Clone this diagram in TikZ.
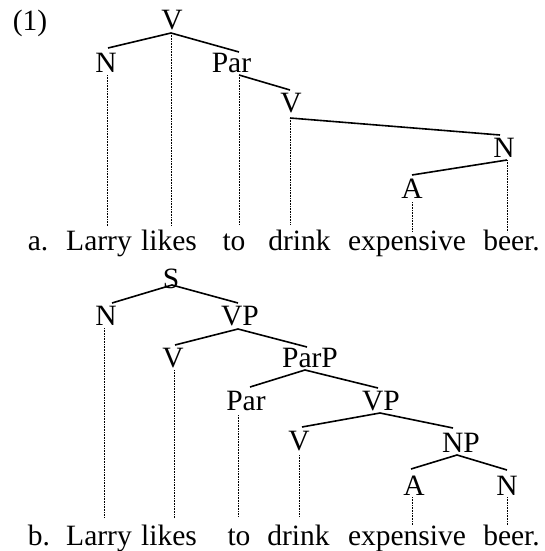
\documentclass[tikz,border=0pt]{standalone}
\usepackage{fontspec}
\setmainfont{Liberation Serif}
\begin{document}
\begin{tikzpicture}[x=1pt,y=-1pt,
  lab/.style={anchor=base,inner sep=0pt,font=\fontsize{29.5}{34}\selectfont},
  wd/.style={anchor=base,inner sep=0pt,font=\fontsize{29.5}{34}\selectfont},
  br/.style={line width=1.6pt},
  tr/.style={line width=0.9pt,dash pattern=on 0.9pt off 0.7pt}]
\useasboundingbox (0,0) rectangle (544,551);
% ---------- (1) a ----------
\node[lab] (num) at (30,31) {(1)};
\node[lab] (aV) at (172,29.5) {V};
\node[lab] (aN) at (106,72) {N};
\node[lab] (aPar) at (231.5,72) {Par};
\node[lab] (aV2) at (291,112) {V};
\node[lab] (aN3) at (504,157) {N};
\node[lab] (aA) at (412,198) {A};
\node[wd] (aw0) at (38,250) {a.};
\node[wd] (aw1) at (99,250) {Larry};
\node[wd] (aw2) at (169,250) {likes};
\node[wd] (aw3) at (234,250) {to};
\node[wd] (aw4) at (299.5,250) {drink};
\node[wd] (aw5) at (407,250) {expensive};
\node[wd] (aw6) at (511.5,250) {beer.};
\coordinate (aVj) at (171,33);
\coordinate (aNt) at (108,48);
\coordinate (aPart) at (239,52);
\coordinate (aNb) at (107,75);
\coordinate (aParj) at (239,75);
\coordinate (aV2t) at (290,90);
\coordinate (aV2j) at (290,118);
\coordinate (aN3t) at (500,135);
\coordinate (aN3j) at (507,160);
\coordinate (aAt) at (412,175);
\coordinate (aAb) at (412,202);
\coordinate (ae1) at (107,226);
\coordinate (ae2) at (171,226);
\coordinate (ae3) at (239,224);
\coordinate (ae4) at (290,224);
\coordinate (ae5) at (412,232);
\coordinate (ae6) at (507,232);
\draw[br] (aNt) -- (aVj) -- (aPart);
\draw[br] (aParj) -- (aV2t);
\draw[br] (aV2j) -- (aN3t);
\draw[br] (aAt) -- (aN3j);
\draw[tr] (aNb) -- (ae1);
\draw[tr] (aVj) -- (ae2);
\draw[tr] (aParj) -- (ae3);
\draw[tr] (aV2j) -- (ae4);
\draw[tr] (aAb) -- (ae5);
\draw[tr] (aN3j) -- (ae6);
% ---------- b ----------
\node[lab] (bS) at (171,288) {S};
\node[lab] (bN) at (106,325) {N};
\node[lab] (bVP) at (240,325) {VP};
\node[lab] (bV) at (173,367) {V};
\node[lab] (bParP) at (310,367) {ParP};
\node[lab] (bPar) at (246,410) {Par};
\node[lab] (bVP2) at (381,410) {VP};
\node[lab] (bV3) at (299,450) {V};
\node[lab] (bNP) at (461,452) {NP};
\node[lab] (bA) at (414,495) {A};
\node[lab] (bN2) at (507,495) {N};
\node[wd] (bw0) at (39,545) {b.};
\node[wd] (bw1) at (99,545) {Larry};
\node[wd] (bw2) at (169,545) {likes};
\node[wd] (bw3) at (239,545) {to};
\node[wd] (bw4) at (298.5,545) {drink};
\node[wd] (bw5) at (407,545) {expensive};
\node[wd] (bw6) at (511.5,545) {beer.};
\coordinate (bSj) at (172,285);
\coordinate (bNt) at (112,303);
\coordinate (bVPt) at (238,303);
\coordinate (bNb) at (104,328);
\coordinate (bVPj) at (238,329);
\coordinate (bVt) at (175,345);
\coordinate (bParPt) at (307,347);
\coordinate (bVb) at (174,370);
\coordinate (bParPj) at (305,370);
\coordinate (bPart) at (250,387);
\coordinate (bVP2t) at (378,388);
\coordinate (bParb) at (238,415);
\coordinate (bVP2j) at (380,413);
\coordinate (bV3t) at (302,427);
\coordinate (bNPt) at (453,428);
\coordinate (bV3b) at (299,455);
\coordinate (bNPj) at (457,455);
\coordinate (bAt) at (411,469);
\coordinate (bN2t) at (507,470);
\coordinate (bAb) at (412,497);
\coordinate (bN2b) at (507,497);
\coordinate (be1) at (104,518);
\coordinate (be2) at (174,518);
\coordinate (be3) at (238,517);
\coordinate (be4) at (299,517);
\coordinate (be5) at (412,525);
\coordinate (be6) at (507,525);
\draw[br] (bNt) -- (bSj) -- (bVPt);
\draw[br] (bVt) -- (bVPj) -- (bParPt);
\draw[br] (bPart) -- (bParPj) -- (bVP2t);
\draw[br] (bV3t) -- (bVP2j) -- (bNPt);
\draw[br] (bAt) -- (bNPj) -- (bN2t);
\draw[tr] (bNb) -- (be1);
\draw[tr] (bVb) -- (be2);
\draw[tr] (bParb) -- (be3);
\draw[tr] (bV3b) -- (be4);
\draw[tr] (bAb) -- (be5);
\draw[tr] (bN2b) -- (be6);
\end{tikzpicture}
\end{document}
